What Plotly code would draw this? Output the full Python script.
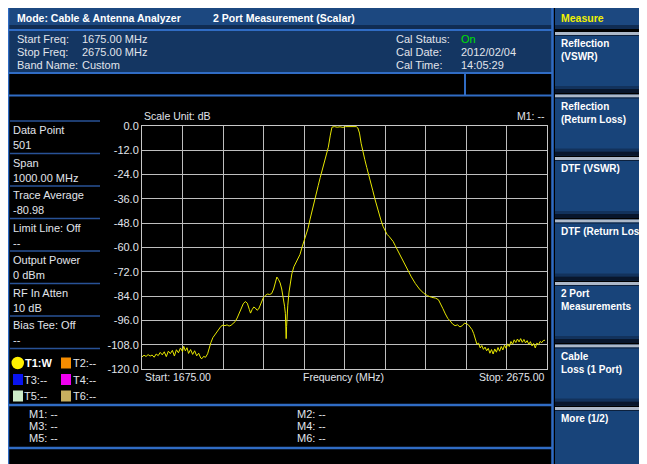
import plotly.graph_objects as go

# ---------------- data ----------------
freq_mhz = [
    1675, 1680, 1685, 1690, 1695, 1700, 1705, 1710, 1715, 1720, 1725, 1730, 1735, 1740,
    1745, 1750, 1755, 1760, 1765, 1770, 1775, 1778, 1782, 1786, 1790, 1795, 1800, 1805,
    1810, 1815, 1820, 1823, 1827, 1832, 1837, 1841, 1845, 1850, 1855, 1860, 1865, 1870,
    1875, 1880, 1885, 1890, 1895, 1900, 1905, 1910, 1915, 1920, 1925, 1930, 1935, 1940,
    1943, 1947, 1951, 1955, 1959, 1963, 1967, 1971, 1975, 1980, 1985, 1990, 1995, 2000,
    2004, 2008, 2012, 2016, 2020, 2024, 2027, 2029, 2030, 2031, 2032, 2033, 2035, 2038,
    2041, 2045, 2050, 2055, 2060, 2065, 2070, 2075, 2080, 2085, 2090, 2095, 2100, 2105,
    2110, 2115, 2120, 2125, 2130, 2135, 2140, 2144, 2150, 2157, 2164, 2171, 2178, 2185,
    2192, 2199, 2204, 2208, 2212, 2216, 2220, 2225, 2230, 2235, 2240, 2245, 2250, 2255,
    2260, 2265, 2270, 2275, 2280, 2285, 2290, 2295, 2300, 2305, 2310, 2320, 2330, 2340,
    2350, 2360, 2370, 2380, 2390, 2400, 2407, 2412, 2418, 2424, 2430, 2436, 2442, 2448,
    2454, 2460, 2466, 2471, 2476, 2481, 2486, 2490, 2494, 2498, 2502, 2506, 2510, 2514,
    2518, 2522, 2526, 2530, 2534, 2538, 2542, 2546, 2550, 2554, 2558, 2562, 2566, 2570,
    2574, 2578, 2582, 2586, 2590, 2594, 2598, 2602, 2606, 2610, 2614, 2618, 2622, 2626,
    2630, 2634, 2638, 2642, 2646, 2650, 2654, 2658, 2662, 2666, 2670, 2675,
]
level_db = [
    -114.0, -113.2, -113.8, -112.9, -113.6, -113.1, -114.2, -112.6, -113.4, -111.8, -113.0, -111.5, -113.9, -111.2,
    -112.4, -110.8, -113.6, -110.5, -112.0, -109.6, -111.4, -108.8, -111.0, -109.5, -112.3, -110.4, -112.8, -111.0,
    -113.5, -112.2, -114.6, -114.9, -113.8, -114.2, -112.5, -109.0, -107.0, -104.5, -103.2, -101.5, -100.2, -98.9,
    -98.3, -98.6, -98.2, -98.8, -98.4, -97.6, -96.6, -94.8, -92.3, -89.9, -87.8, -86.7, -87.5, -90.6,
    -92.4, -90.6, -89.4, -89.9, -91.0, -90.4, -88.5, -86.2, -84.6, -83.6, -83.0, -83.2, -82.8, -80.5,
    -77.0, -74.6, -75.8, -77.5, -80.5, -84.5, -89.0, -92.5, -100.0, -105.0, -99.0, -93.0, -88.5, -82.0,
    -77.0, -73.0, -69.5, -67.5, -65.8, -63.5, -60.0, -57.0, -54.0, -50.5, -46.0, -41.5, -37.5, -33.5,
    -29.5, -25.5, -21.5, -18.5, -14.5, -10.5, -4.5, -0.6, -0.3, -0.6, -0.4, -0.7, -0.3, -0.2,
    -0.3, -0.2, -0.3, -1.0, -3.5, -8.5, -12.5, -16.5, -20.5, -24.0, -28.0, -32.0, -36.0, -40.0,
    -43.5, -46.5, -49.5, -51.8, -53.5, -54.5, -55.6, -57.0, -59.0, -61.0, -63.0, -66.5, -70.8, -74.5,
    -77.8, -80.5, -82.5, -83.8, -84.6, -85.0, -85.8, -87.5, -90.2, -92.8, -95.0, -96.3, -97.8, -98.6,
    -98.2, -99.2, -98.6, -97.4, -97.6, -98.2, -99.5, -100.6, -102.5, -105.5, -107.8, -107.2, -109.6, -108.4,
    -110.3, -109.2, -111.0, -109.8, -112.2, -110.4, -112.6, -110.1, -111.7, -109.4, -111.2, -108.9, -110.6, -108.2,
    -109.8, -107.6, -108.9, -106.4, -107.8, -105.6, -106.9, -105.2, -106.6, -105.0, -106.8, -105.4, -107.1, -106.0,
    -107.8, -106.5, -108.6, -107.4, -109.6, -107.2, -108.0, -106.4, -107.0, -105.9, -105.8,
]
y_tick_vals = [0, -12, -24, -36, -48, -60, -72, -84, -96, -108, -120]
y_tick_text = ["0.0", "-12.0", "-24.0", "-36.0", "-48.0", "-60.0", "-72.0", "-84.0", "-96.0", "-108.0", "-120.0"]
x_tick_vals = [1675, 1775, 1875, 1975, 2075, 2175, 2275, 2375, 2475, 2575, 2675]

left_panel_items = [
    ("Data Point", "501"), ("Span", "1000.00 MHz"), ("Trace Average", "-80.98"),
    ("Limit Line: Off", "--"), ("Output Power", "0 dBm"), ("RF In Atten", "10 dB"),
    ("Bias Tee: Off", "--"),
]
trace_legend = [("T1:W", "T2:--"), ("T3:--", "T4:--"), ("T5:--", "T6:--")]
softkeys = [["Reflection", "(VSWR)"], ["Reflection", "(Return Loss)"], ["DTF (VSWR)"],
            ["DTF (Return Loss)"], ["2 Port", "Measurements"], ["Cable", "Loss (1 Port)"],
            ["More (1/2)"]]
marker_left = ["M1: --", "M3: --", "M5: --"]
marker_right = ["M2: --", "M4: --", "M6: --"]

# ---------------- layout helpers ----------------
# The page body has an 8 px margin, so the figure starts at page (8, 8).
OFF = 8
PW, PH = 647, 464            # browser window
W, H = PW - OFF, PH - OFF    # figure size
L, R, T, B = 142, 547, 126, 369   # plot area in page pixels
FONT = "Liberation Sans"


def X(px):
    return (px - L) / (R - L)


def Y(py):
    return (B - py) / (B - T)


shapes = []
annotations = []


def rect(x0, y0, x1, y1, color, line=None):
    d = dict(type="rect", xref="paper", yref="paper", x0=X(x0), x1=X(x1), y0=Y(y1), y1=Y(y0),
             fillcolor=color, layer="below")
    d["line"] = dict(color=line, width=1) if line else dict(width=0)
    shapes.append(d)


def seg(x0, y0, x1, y1, color, w=1.0):
    shapes.append(dict(type="line", xref="paper", yref="paper", x0=X(x0), x1=X(x1),
                       y0=Y(y0), y1=Y(y1), line=dict(color=color, width=w), layer="below"))


def text(px, py, s, color="rgb(225,228,235)", size=11, anchor="left", bold=False, yanchor="middle"):
    if bold:
        s = "<b>" + s.replace("<br>", "</b><br><b>") + "</b>"
    annotations.append(dict(xref="paper", yref="paper", x=X(px), y=Y(py), text=s, showarrow=False,
                            xanchor=anchor, yanchor=yanchor, align="left", borderpad=0,
                            font=dict(family=FONT, size=size, color=color)))


BLUE_LINE = "rgb(48,108,196)"
BAR = "rgb(28,72,128)"
PANEL = "rgb(20,54,98)"

# title bar
rect(6, 8, 552, 29, BAR)
rect(6, 25, 552, 29, "rgb(16,44,82)")
seg(6, 30, 552, 30, BLUE_LINE, 2)
text(16, 17.5, "Mode: Cable & Antenna Analyzer", "white", 10.5, bold=True)
text(212, 17.5, "2 Port Measurement (Scalar)", "white", 10.5, bold=True)

# info panel
rect(6, 31, 552, 72, PANEL)
seg(6, 73, 552, 73, BLUE_LINE, 2)
seg(465, 73, 465, 95, BLUE_LINE, 2)
seg(6, 95.5, 552, 95.5, BLUE_LINE, 2)
text(16, 39, "Start Freq:")
text(81, 39, "1675.00 MHz")
text(16, 52, "Stop Freq:")
text(81, 52, "2675.00 MHz")
text(16, 65, "Band Name:")
text(81, 65, "Custom")
text(395, 39, "Cal Status:")
text(460, 39, "On", "rgb(0,225,0)")
text(395, 52, "Cal Date:")
text(460, 52, "2012/02/04")
text(395, 65, "Cal Time:")
text(460, 65, "14:05:29")

# frame lines
seg(8.5, 8, 8.5, PH, BLUE_LINE, 1.5)
seg(552.5, 8, 552.5, PH, BLUE_LINE, 2.5)
seg(6, 405, 552, 405, BLUE_LINE, 2.5)
seg(6, 448, 552, 448, BLUE_LINE, 2.5)

# left info panel
sep_y = [121, 153.5, 186, 218.5, 251, 283.5, 316, 348.5]
for yy in sep_y:
    seg(10, yy, 100, yy, "rgb(40,82,150)", 1.5)
for i, (lab, val) in enumerate(left_panel_items):
    y0 = 130 + i * 32.5
    text(12, y0, lab)
    text(12, y0 + 15, val)

# trace legend
icon_colors = [("rgb(255,240,0)", "rgb(245,140,0)"), ("rgb(10,20,240)", "rgb(240,0,240)"),
               ("rgb(205,235,200)", "rgb(200,175,95)")]
for i, (a, b) in enumerate(trace_legend):
    yy = 363 + i * 16.5
    ca, cb = icon_colors[i]
    if i == 0:
        shapes.append(dict(type="circle", xref="paper", yref="paper", x0=X(11.5), x1=X(24),
                           y0=Y(yy + 6.2), y1=Y(yy - 6.2), fillcolor=ca, line=dict(width=0), layer="below"))
        text(24, yy, a, "white", 11, bold=True)
    else:
        rect(13, yy - 5.5, 23, yy + 5.5, ca)
        text(23, yy, a)
    rect(61, yy - 5.5, 71, yy + 5.5, cb)
    text(72, yy, b)

# markers
for i, (a, b) in enumerate(zip(marker_left, marker_right)):
    yy = 414 + i * 12
    text(28, yy, a)
    text(296, yy, b)

# chart labels
text(143, 116, "Scale Unit: dB", size=10.5)
text(546, 116, "M1: --", anchor="right", size=10.5)
text(144, 377, "Start: 1675.00", size=10.5)
text(343, 377, "Frequency (MHz)", anchor="center", size=10.5)
text(546, 377, "Stop: 2675.00", anchor="right", size=10.5)

# softkeys
rect(555, 8, PW, 29, BAR)
rect(555, 25, PW, 29, "rgb(16,44,82)")
text(560, 17.5, "Measure", "rgb(240,240,0)", 10.5, bold=True)
for k, lines in enumerate(softkeys):
    top = 32 + k * 62.5
    bot = min(top + 61, PH)
    rect(555, top, PW, bot, "rgb(24,68,122)")
    rect(555, top, PW, top + 3, "rgb(172,184,200)")
    rect(555, top + 3, PW, top + 4, "rgb(12,32,60)")
    if bot < PH:
        rect(555, bot - 7, PW, bot - 4, "rgb(18,50,92)")
        rect(555, bot - 4, PW, bot, "rgb(8,22,44)")
    text(559.5, top + 5, "<br>".join(lines), "white", 10, bold=True, yanchor="top")
rect(642, 290, 648, 297, "rgb(20,20,20)", line="rgb(200,200,200)")

fig = go.Figure()
fig.add_trace(go.Scatter(x=freq_mhz, y=level_db, mode="lines",
                         line=dict(color="rgb(232,232,0)", width=1), hoverinfo="skip"))

fig.update_layout(
    width=W, height=H, autosize=False,
    margin=dict(l=L - OFF, r=PW - R, t=T - OFF, b=PH - B, pad=0, autoexpand=False),
    paper_bgcolor="black", plot_bgcolor="rgba(0,0,0,0)",
    showlegend=False, shapes=shapes, annotations=annotations,
    font=dict(family=FONT, color="rgb(225,228,235)", size=11),
)
fig.update_xaxes(range=[1675, 2675], tickvals=x_tick_vals, showticklabels=False, ticks="",
                 showgrid=True, gridcolor="rgb(190,190,190)", gridwidth=1, zeroline=False,
                 showline=True, linecolor="rgb(200,200,200)", linewidth=1, mirror=True)
fig.update_yaxes(range=[-120, 0], tickvals=y_tick_vals, ticktext=y_tick_text, ticks="",
                 showgrid=True, gridcolor="rgb(190,190,190)", gridwidth=1, zeroline=False,
                 showline=True, linecolor="rgb(200,200,200)", linewidth=1, mirror=True,
                 tickfont=dict(family=FONT, size=11, color="rgb(225,228,235)"))

fig.write_html("out.html")
